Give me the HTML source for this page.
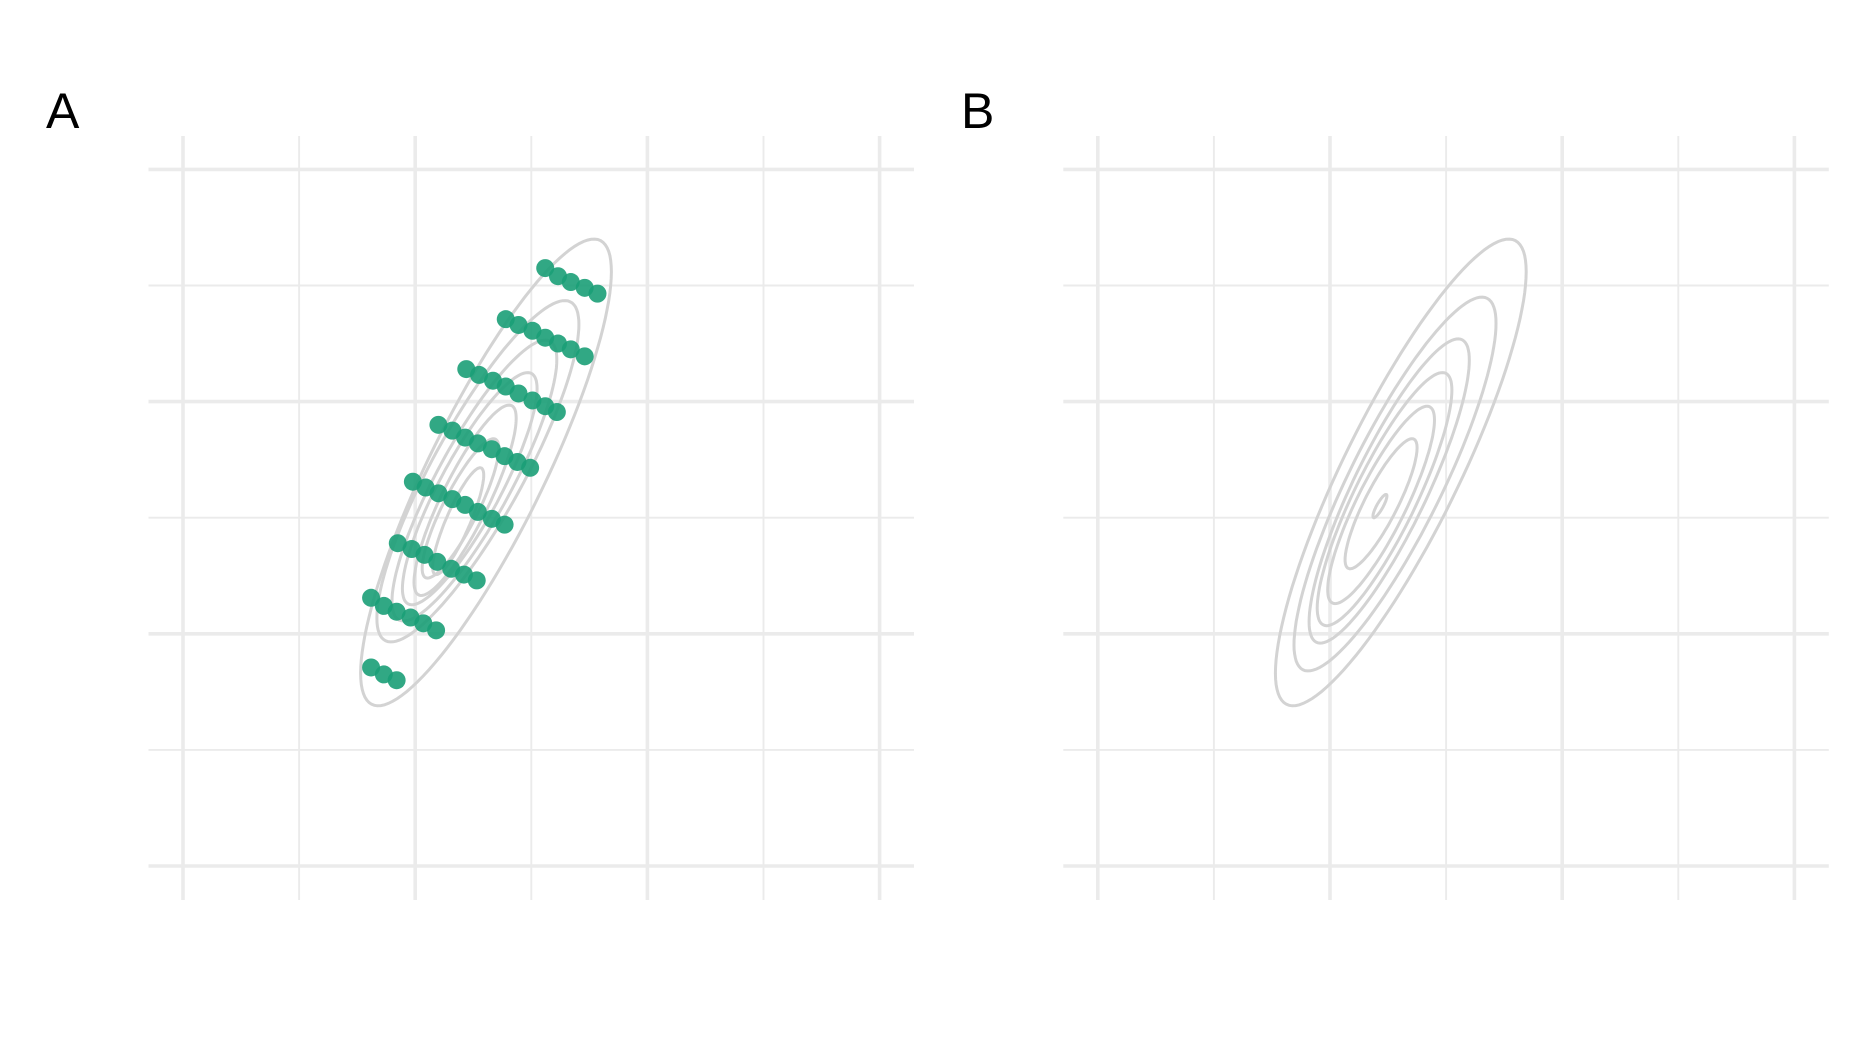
<!DOCTYPE html>
<html><head><meta charset="utf-8"><style>
html,body{margin:0;padding:0;background:#fff;}
svg{display:block;}
</style></head><body>
<svg id="chart" width="1875" height="1050" viewBox="0 0 1875 1050" xmlns="http://www.w3.org/2000/svg">
<rect width="1875" height="1050" fill="#fff"/>
<text x="46" y="128" font-family="Liberation Sans, sans-serif" font-size="50" fill="#000">A</text>
<text x="961" y="128" font-family="Liberation Sans, sans-serif" font-size="50" fill="#000">B</text>
<g id="panelA"></g>
<g id="panelB"></g>
</svg>
<script>
// grid ticks (data units)
const xTicks = [0, 1, 2, 3, 4, 5, 6];
const yTicks = [0, 1, 2, 3, 4, 5, 6];
// sample points (panel A)
const pointX = [3.12,3.23,3.34,3.46,3.57,
  2.78,2.89,3.01,3.12,3.23,3.34,3.46,
  2.44,2.55,2.67,2.78,2.89,3.01,3.12,3.22,
  2.20,2.32,2.43,2.54,2.66,2.77,2.88,2.99,
  1.98,2.09,2.20,2.32,2.43,2.54,2.66,2.77,
  1.85,1.97,2.08,2.19,2.31,2.42,2.53,
  1.62,1.73,1.84,1.96,2.07,2.18,
  1.62,1.73,1.84];
const pointY = [5.15,5.08,5.03,4.98,4.93,
  4.71,4.66,4.61,4.55,4.50,4.45,4.39,
  4.28,4.23,4.18,4.13,4.07,4.01,3.96,3.91,
  3.80,3.75,3.69,3.64,3.59,3.53,3.48,3.43,
  3.31,3.26,3.21,3.16,3.11,3.05,2.99,2.94,
  2.78,2.73,2.68,2.62,2.56,2.51,2.46,
  2.31,2.24,2.19,2.14,2.09,2.03,
  1.71,1.65,1.60];
// contours panel A: center, half-width, half-height
const contourACx = [2.61,2.54,2.51,2.47,2.43,2.39,2.37];
const contourACy = [3.39,3.40,3.32,3.25,3.15,3.08,2.97];
const contourAA  = [1.08,0.87,0.71,0.58,0.44,0.33,0.22];
const contourAB  = [2.01,1.47,1.21,1.00,0.82,0.60,0.46];
// contours panel B
const contourBCx = [2.61,2.56,2.51,2.47,2.44,2.44,2.43];
const contourBCy = [3.39,3.29,3.23,3.16,3.11,3.12,3.10];
const contourBA  = [1.08,0.87,0.69,0.58,0.46,0.31,0.06];
const contourBB  = [2.01,1.61,1.31,1.09,0.85,0.56,0.10];
const rhoA = 0.86, rhoB = 0.86;

const NS = 'http://www.w3.org/2000/svg';
function mk(tag, attrs, parent){const e=document.createElementNS(NS,tag);for(const k in attrs)e.setAttribute(k,attrs[k]);parent.appendChild(e);return e;}

const UNIT = 116.1;
function drawPanel(gid, offX, cxs, cys, as, bs, rho, withPoints){
  const g = document.getElementById(gid);
  const x = v => offX + 183 + v*UNIT;
  const y = v => 866 - v*UNIT;
  const left = offX+148.5, right = offX+914, top = 136, bottom = 900;
  xTicks.forEach((t,i)=>{
    const l = mk('line',{x1:x(t),x2:x(t),y1:top,y2:bottom,stroke:'#ebebeb','stroke-width':(i%2===0)?3.6:1.9},g);
    
    
  });
  yTicks.forEach((t,i)=>{
    const l = mk('line',{x1:left,x2:right,y1:y(t),y2:y(t),stroke:'#ebebeb','stroke-width':(i%2===0)?3.6:1.9},g);
    
    
  });
  const s = Math.sqrt(1-rho*rho);
  for(let k=0;k<cxs.length;k++){
    let d='';
    for(let i=0;i<=120;i++){
      const t=i/120*2*Math.PI;
      const px = cxs[k] + as[k]*Math.cos(t);
      const py = cys[k] + bs[k]*(rho*Math.cos(t)+s*Math.sin(t));
      d += (i?'L':'M')+x(px).toFixed(1)+','+y(py).toFixed(1);
    }
    const p = mk('path',{d:d+'Z',fill:'none',stroke:'#d3d3d3','stroke-width':3},g);
    
    
  }
  if(withPoints){
    for(let i=0;i<pointX.length;i++){
      const c = mk('circle',{cx:x(pointX[i]),cy:y(pointY[i]),r:9,fill:'#1b9e77','fill-opacity':0.9},g);
      
      
    }
  }
}
drawPanel('panelA', 0, contourACx, contourACy, contourAA, contourAB, rhoA, true);
drawPanel('panelB', 914.8, contourBCx, contourBCy, contourBA, contourBB, rhoB, false);
</script>
</body></html>
